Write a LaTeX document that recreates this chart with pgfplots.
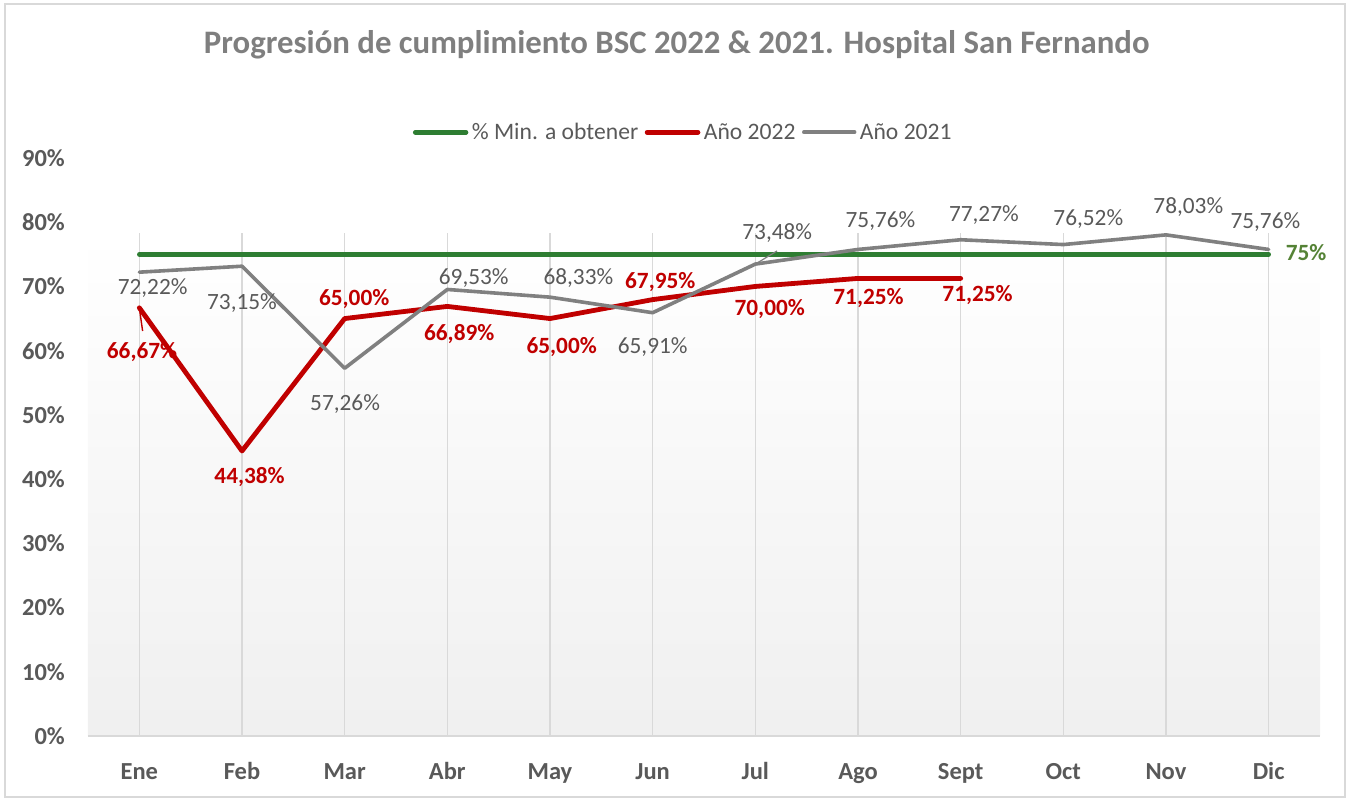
\documentclass[border=0pt]{standalone}
\usepackage{fontspec}
\setmainfont{Carlito}
\usepackage{pgfplots}
\pgfplotsset{compat=1.18}
\definecolor{cgreen}{HTML}{2E7D32}
\definecolor{cred}{HTML}{C00000}
\definecolor{cgray}{HTML}{808080}
\definecolor{ctext}{HTML}{595959}
\definecolor{ctitle}{HTML}{7F7F7F}
\definecolor{cgrid}{HTML}{D9D9D9}
\definecolor{clab}{HTML}{548235}
\newcommand{\lblg}[5]{\node[anchor=base, inner sep=0pt, text=ctext, font=\fontsize{23.3}{23.3}\selectfont] at ([xshift=#3pt, yshift=#4pt]axis cs:#1,#2) {#5};}
\newcommand{\lblr}[5]{\node[anchor=base, inner sep=0pt, text=cred, font=\bfseries\fontsize{23.3}{23.3}\selectfont] at ([xshift=#3pt, yshift=#4pt]axis cs:#1,#2) {#5};}
\begin{document}
\begin{tikzpicture}
\useasboundingbox (-88pt,-63pt) rectangle (1261pt,736pt);
\begin{axis}[
  at={(0pt,0pt)}, anchor=south west,
  scale only axis, width=1232pt, height=578pt,
  xmin=-0.5, xmax=11.5, ymin=0, ymax=90,
  clip=false,
  axis line style={draw=none},
  tick style={draw=none},
  xtick={0,...,11},
  xticklabels={Ene,Feb,Mar,Abr,May,Jun,Jul,Ago,Sept,Oct,Nov,Dic},
  ytick={0,10,...,90},
  yticklabels={0\%,10\%,20\%,30\%,40\%,50\%,60\%,70\%,80\%,90\%},
  xticklabel style={anchor=base, inner sep=0pt, yshift=-43.3pt, text=ctext, font=\bfseries\fontsize{24.5}{24.5}\selectfont},
  yticklabel style={anchor=east, inner sep=0pt, xshift=-23pt, text=ctext, font=\bfseries\fontsize{24.5}{24.5}\selectfont},
  legend columns=3,
  legend style={at={(0.2636,1.0445)}, anchor=west, draw=none, fill=none, inner sep=0pt,
    font=\fontsize{23.6}{23.6}\selectfont, text=ctext,
    nodes={inner sep=0pt, anchor=west},
    /tikz/every odd column/.append style={column sep=3.5pt},
    /tikz/every even column/.append style={column sep=6.5pt}},
  legend image code/.code={\draw[#1, line cap=round] (2.4pt,0pt) -- (53.2pt,0pt);},
]
\fill[top color=white, bottom color=black!6, draw=none] (axis cs:-0.5,0) rectangle (axis cs:11.5,78.32);
\pgfplotsinvokeforeach{0,...,11}{\draw[cgrid, line width=1.3pt] (axis cs:#1,0) -- (axis cs:#1,78.32);}
\draw[cgrid, line width=1.5pt] (axis cs:-0.5,0) -- (axis cs:11.5,0);

\addplot[cgreen, line width=4.6pt, line cap=round, line join=round] coordinates {
(0,75) (1,75) (2,75) (3,75) (4,75) (5,75) (6,75) (7,75) (8,75) (9,75) (10,75) (11,75)};
\addlegendentry{\% Min. a obtener}
\addplot[cred, line width=4.8pt, line cap=round, line join=round] coordinates {
(0,66.67) (1,44.38) (2,65.00) (3,66.89) (4,65.00) (5,67.95) (6,70.00) (7,71.25) (8,71.25)};
\addlegendentry{Año 2022}
\addplot[cgray, line width=3.6pt, line cap=round, line join=round] coordinates {
(0,72.22) (1,73.15) (2,57.26) (3,69.53) (4,68.33) (5,65.91) (6,73.48) (7,75.76) (8,77.27) (9,76.52) (10,78.03) (11,75.76)};
\addlegendentry{Año 2021}

% leader lines
\draw[cred, line width=1.4pt] (axis cs:0,66.67) -- (axis cs:0.032,63.06);
\draw[cgray, line width=1.2pt] (axis cs:6,73.48) -- (axis cs:6.211,75.52);

% labels 2021
\lblg{0}{72.22}{13.3}{-21.9}{72,22\%}
\lblg{1}{73.15}{0}{-43.4}{73,15\%}
\lblg{2}{57.26}{0.4}{-41.9}{57,26\%}
\lblg{3}{69.53}{26.4}{4.6}{69,53\%}
\lblg{4}{68.33}{28.4}{12.3}{68,33\%}
\lblg{5}{65.91}{0}{-40.5}{65,91\%}
\lblg{6}{73.48}{21.9}{24.2}{73,48\%}
\lblg{7}{75.76}{22.5}{21.8}{75,76\%}
\lblg{8}{77.27}{23.2}{18.7}{77,27\%}
\lblg{9}{76.52}{25}{19}{76,52\%}
\lblg{10}{78.03}{22.3}{21.7}{78,03\%}
\lblg{11}{75.76}{-3.3}{21.3}{75,76\%}
% labels 2022
\lblr{0}{66.67}{2.7}{-50.9}{66,67\%}
\lblr{1}{44.38}{7.6}{-32.7}{44,38\%}
\lblr{2}{65.00}{9.5}{13.4}{65,00\%}
\lblr{3}{66.89}{11.9}{-34.2}{66,89\%}
\lblr{4}{65.00}{11.7}{-34.6}{65,00\%}
\lblr{5}{67.95}{7.6}{11.4}{67,95\%}
\lblr{6}{70.00}{14.4}{-29.2}{70,00\%}
\lblr{7}{71.25}{10.5}{-26.5}{71,25\%}
\lblr{8}{71.25}{16.9}{-23.2}{71,25\%}
\node[anchor=base, inner sep=0pt, text=clab, font=\bfseries\fontsize{23.3}{23.3}\selectfont] at ([xshift=37.5pt, yshift=-6.3pt]axis cs:11,75) {75\%};
\end{axis}
\node[anchor=base, inner sep=0pt, text=ctitle, font=\bfseries\fontsize{32.8}{32.8}\selectfont] at (588.7pt,682.7pt) {Progresión de cumplimiento BSC 2022 \& 2021. Hospital San Fernando};
\draw[cgrid, line width=1.3pt] (-83pt,-61pt) rectangle (1257pt,732pt);
\end{tikzpicture}
\end{document}
